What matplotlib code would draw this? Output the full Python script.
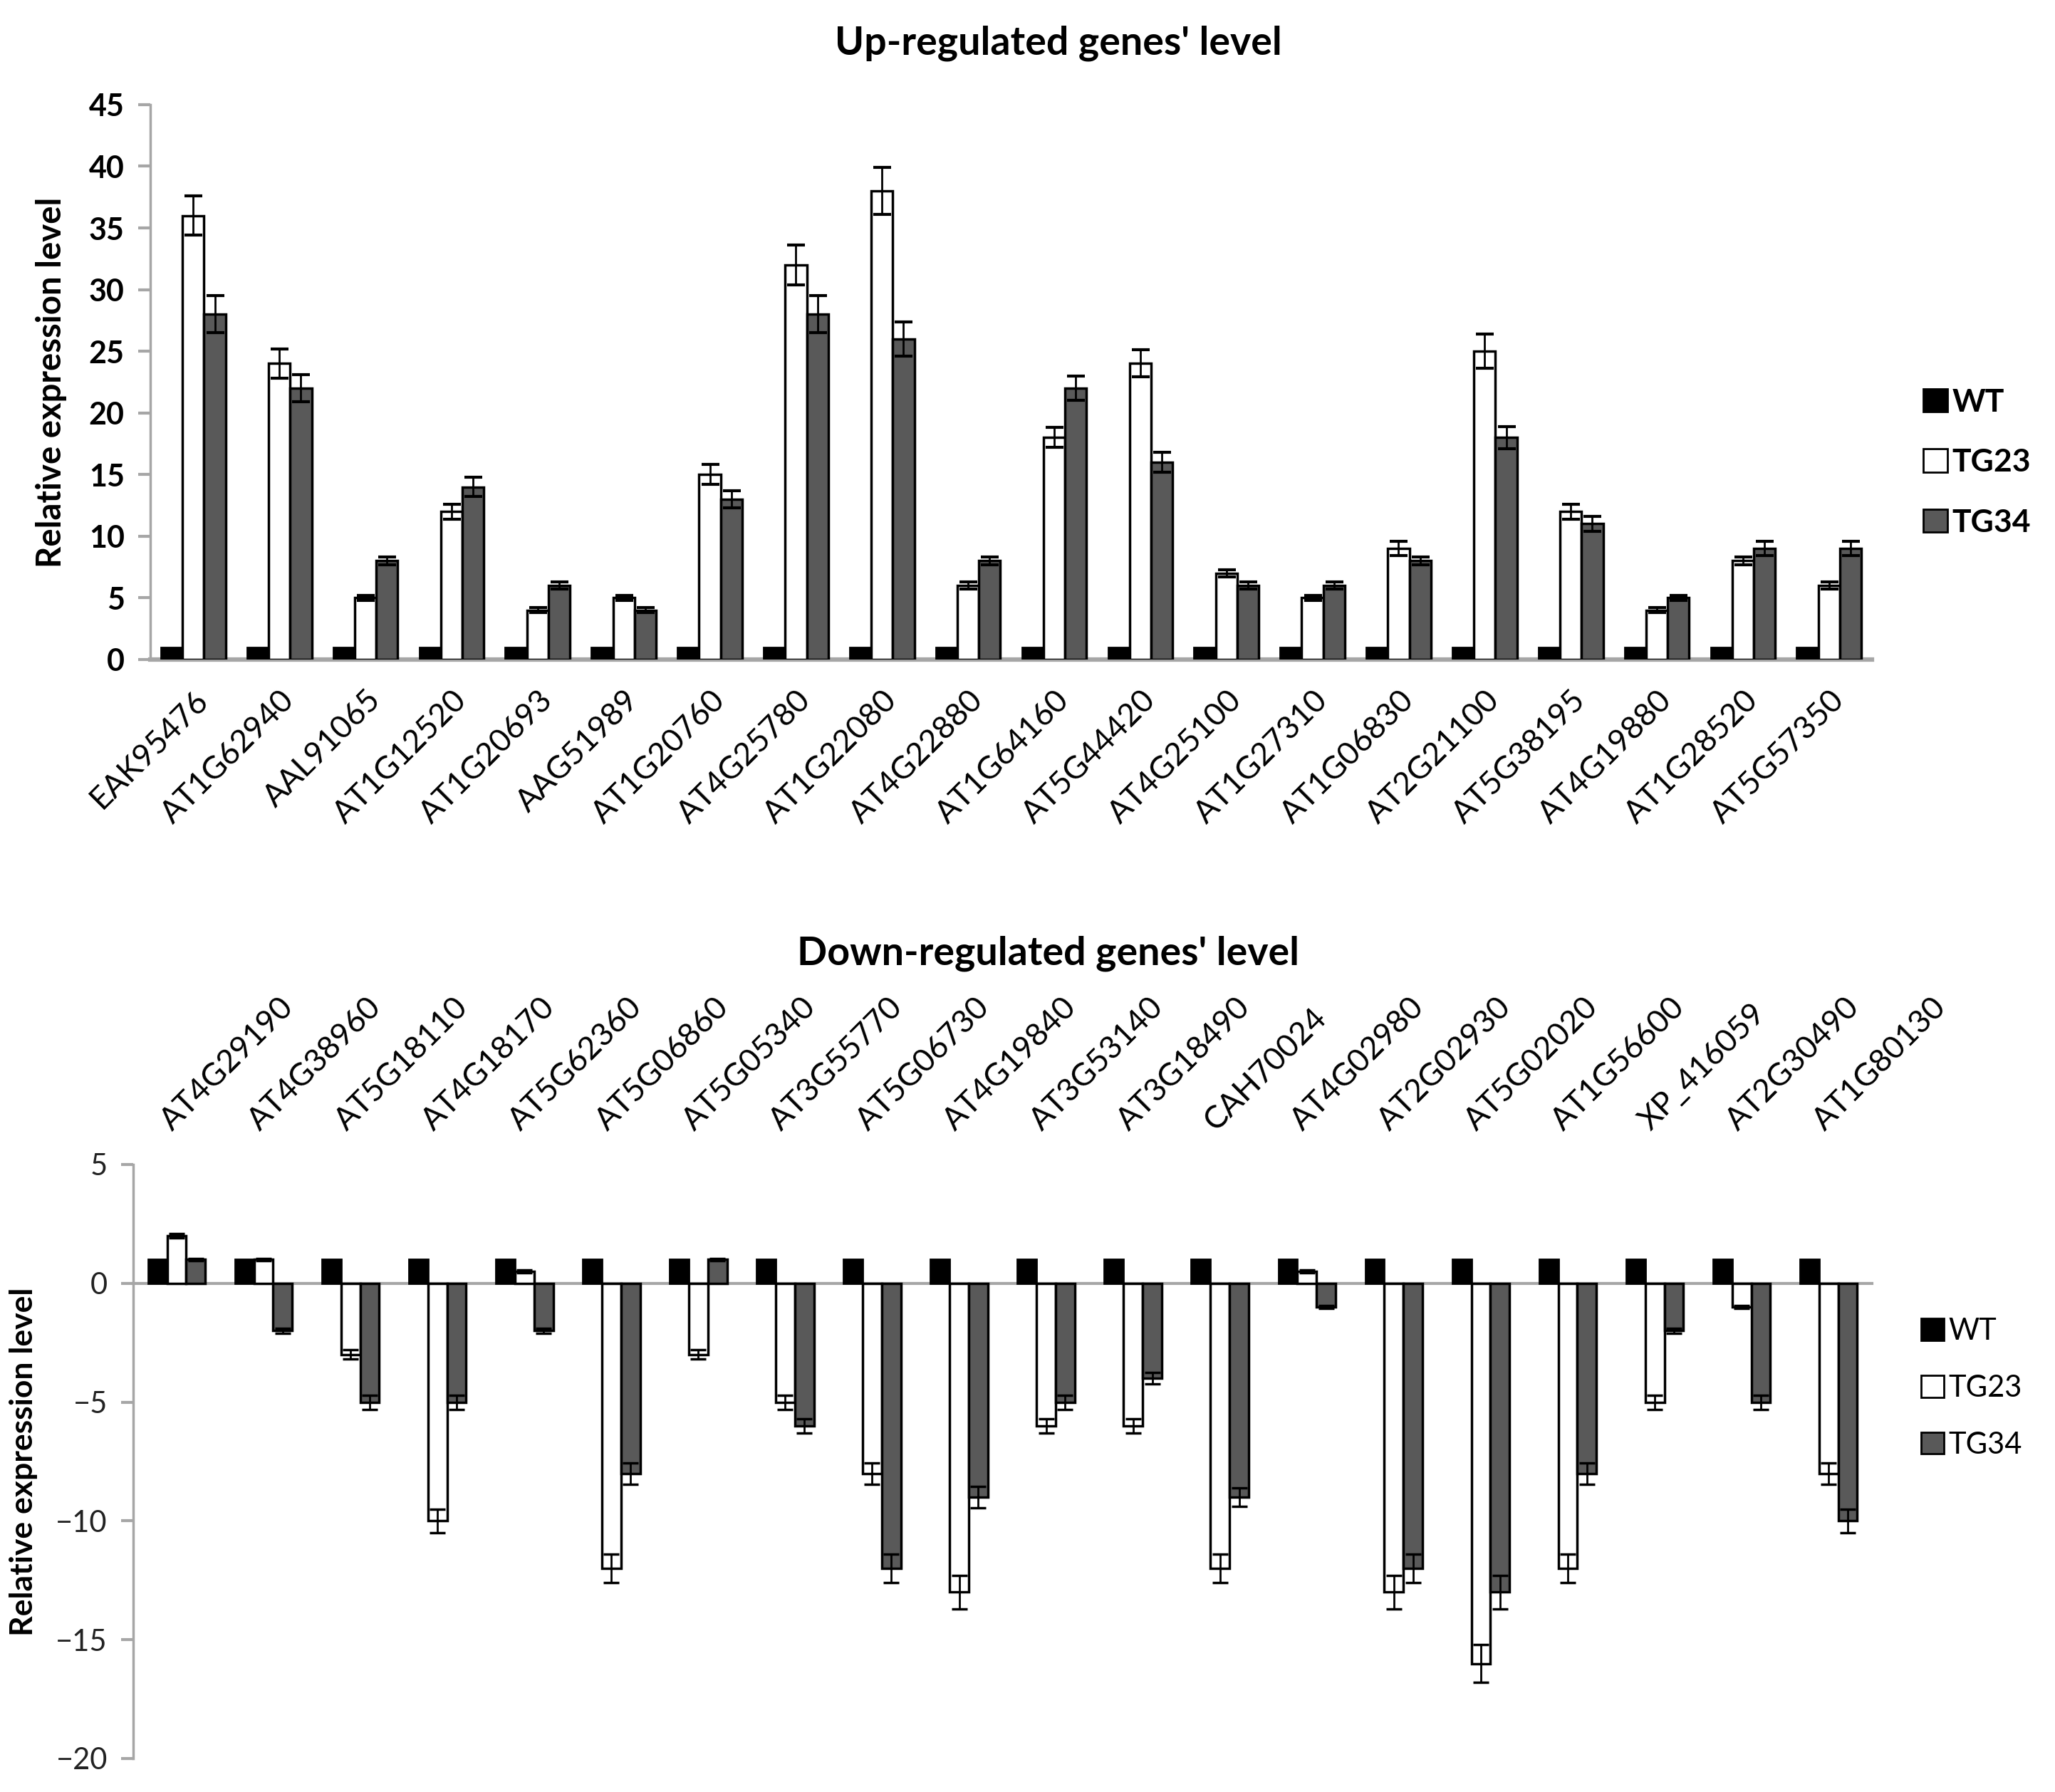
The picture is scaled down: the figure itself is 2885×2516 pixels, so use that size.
import matplotlib
matplotlib.use("Agg")
import matplotlib.pyplot as plt
from matplotlib.patches import Patch
import numpy as np

plt.rcParams['font.family'] = ['Lato', 'DejaVu Sans']

# up-regulated genes
up_genes = ['EAK95476', 'AT1G62940', 'AAL91065', 'AT1G12520', 'AT1G20693', 'AAG51989',
            'AT1G20760', 'AT4G25780', 'AT1G22080', 'AT4G22880', 'AT1G64160', 'AT5G44420',
            'AT4G25100', 'AT1G27310', 'AT1G06830', 'AT2G21100', 'AT5G38195', 'AT4G19880',
            'AT1G28520', 'AT5G57350']
up_wt = [1] * 20
up_tg23 = [36, 24, 5, 12, 4, 5, 15, 32, 38, 6, 18, 24, 7, 5, 9, 25, 12, 4, 8, 6]
up_tg34 = [28, 22, 8, 14, 6, 4, 13, 28, 26, 8, 22, 16, 6, 6, 8, 18, 11, 5, 9, 9]
up_tg23_err = [1.6, 1.2, 0.2, 0.6, 0.2, 0.2, 0.8, 1.6, 1.9, 0.3, 0.8, 1.1, 0.3, 0.2, 0.6, 1.4, 0.6, 0.2, 0.3, 0.3]
up_tg34_err = [1.5, 1.1, 0.3, 0.8, 0.3, 0.2, 0.7, 1.5, 1.4, 0.3, 1.0, 0.8, 0.3, 0.3, 0.3, 0.9, 0.6, 0.2, 0.6, 0.6]

# down-regulated genes
down_genes = ['AT4G29190', 'AT4G38960', 'AT5G18110', 'AT4G18170', 'AT5G62360', 'AT5G06860',
              'AT5G05340', 'AT3G55770', 'AT5G06730', 'AT4G19840', 'AT3G53140', 'AT3G18490',
              'CAH70024', 'AT4G02980', 'AT2G02930', 'AT5G02020', 'AT1G56600', 'XP_416059',
              'AT2G30490', 'AT1G80130']
down_wt = [1] * 20
down_tg23 = [2, 1, -3, -10, 0.5, -12, -3, -5, -8, -13, -6, -6, -12, 0.5, -13, -16, -12, -5, -1, -8]
down_tg34 = [1, -2, -5, -5, -2, -8, 1, -6, -12, -9, -5, -4, -9, -1, -12, -13, -8, -2, -5, -10]
down_tg23_err = [0.1, 0.05, 0.2, 0.5, 0.05, 0.6, 0.2, 0.3, 0.45, 0.7, 0.3, 0.3, 0.6, 0.05, 0.7, 0.8, 0.6, 0.3, 0.05, 0.45]
down_tg34_err = [0.05, 0.1, 0.3, 0.3, 0.1, 0.45, 0.05, 0.3, 0.6, 0.45, 0.3, 0.25, 0.4, 0.05, 0.6, 0.7, 0.45, 0.1, 0.3, 0.5]

series = ['WT', 'TG23', 'TG34']
fills = ['black', 'white', '#595959']
axis_grey = '#a6a6a6'

fig = plt.figure(figsize=(28.85, 25.16), dpi=100)

#top chart
ax1 = fig.add_axes([0.0731, 0.632, 0.911 - 0.0731, 0.9416 - 0.632])
x = np.arange(20) + 0.5
w = 0.25
ekw = dict(ecolor='black', elinewidth=2, capsize=9, capthick=3)
ax1.bar(x - w, up_wt, w, color=fills[0], edgecolor='black', linewidth=2)
ax1.bar(x, up_tg23, w, color=fills[1], edgecolor='black', linewidth=2.5, yerr=up_tg23_err, error_kw=ekw)
ax1.bar(x + w, up_tg34, w, color=fills[2], edgecolor='black', linewidth=2.5, yerr=up_tg34_err, error_kw=ekw)
ax1.set_xlim(0, 20)
ax1.set_ylim(0, 45)
ax1.set_yticks(range(0, 46, 5))
ax1.set_xticks(x)
ax1.set_xticklabels(up_genes, rotation=45, ha='right', va='top', rotation_mode='anchor', fontsize=32)
ax1.tick_params(axis='x', length=0, pad=26)
ax1.tick_params(axis='y', length=12, width=3, color=axis_grey, labelsize=31, pad=14)
for t in ax1.get_yticklabels():
    t.set_fontweight('bold')
ax1.spines['top'].set_visible(False)
ax1.spines['right'].set_visible(False)
ax1.spines['left'].set_color(axis_grey)
ax1.spines['left'].set_linewidth(2.5)
ax1.spines['bottom'].set_color(axis_grey)
ax1.spines['bottom'].set_linewidth(4.5)
ax1.spines['bottom'].set_zorder(0.5)
ax1.set_ylabel('Relative expression level', fontsize=34, fontweight='bold', labelpad=22)
fig.text(0.515, 0.976, "Up-regulated genes' level", ha='center', va='center', fontsize=40, fontweight='bold')

handles = [Patch(facecolor=fills[i], edgecolor='black', linewidth=2, label=series[i]) for i in range(3)]
fig.legend(handles=handles, loc='center left', bbox_to_anchor=(0.936, 0.742), frameon=False,
           prop={'weight': 'bold', 'size': 32}, handlelength=0.75, handleheight=0.75,
           handletextpad=0.15, labelspacing=1.0, borderpad=0, borderaxespad=0)

#bottom chart
ax2 = fig.add_axes([0.0648, 0.0187, 0.911 - 0.0648, 0.3502 - 0.0187])
# move the x axis line to zero first, it resets the ticks
ax2.spines['top'].set_visible(False)
ax2.spines['right'].set_visible(False)
ax2.spines['left'].set_color(axis_grey)
ax2.spines['left'].set_linewidth(2.5)
ax2.spines['bottom'].set_position(('data', 0))
ax2.spines['bottom'].set_color(axis_grey)
ax2.spines['bottom'].set_linewidth(3)
ax2.spines['bottom'].set_zorder(0.5)

w2 = 0.22
ekw2 = dict(ecolor='black', elinewidth=2, capsize=8, capthick=2.5)
ax2.bar(x - w2, down_wt, w2, color=fills[0], edgecolor='black', linewidth=2)
ax2.bar(x, down_tg23, w2, color=fills[1], edgecolor='black', linewidth=2.5, yerr=down_tg23_err, error_kw=ekw2)
ax2.bar(x + w2, down_tg34, w2, color=fills[2], edgecolor='black', linewidth=2.5, yerr=down_tg34_err, error_kw=ekw2)
ax2.set_xlim(0, 20)
ax2.set_ylim(-20, 5)
ax2.set_yticks(range(-20, 6, 5))
ax2.set_xticks(x)
ax2.set_xticklabels(down_genes)
ax2.xaxis.set_ticks_position('top')
ax2.tick_params(axis='x', length=0, pad=29, labelsize=32, labelrotation=45)
for tick in ax2.xaxis.get_major_ticks():
    tick.label2.set_ha('left')
    tick.label2.set_va('bottom')
    tick.label2.set_rotation_mode('anchor')
ax2.tick_params(axis='y', length=12, width=3, color=axis_grey, labelsize=30, pad=14, labelcolor='#222222')
ax2.set_ylabel('Relative expression level', fontsize=32, fontweight='bold', labelpad=18)
fig.text(0.51, 0.468, "Down-regulated genes' level", ha='center', va='center', fontsize=40, fontweight='bold')

fig.legend(handles=handles, loc='center left', bbox_to_anchor=(0.935, 0.2254), frameon=False,
           prop={'size': 30}, handlelength=0.75, handleheight=0.75,
           handletextpad=0.15, labelspacing=1.0, borderpad=0, borderaxespad=0)

plt.savefig('out.png', dpi=100)
